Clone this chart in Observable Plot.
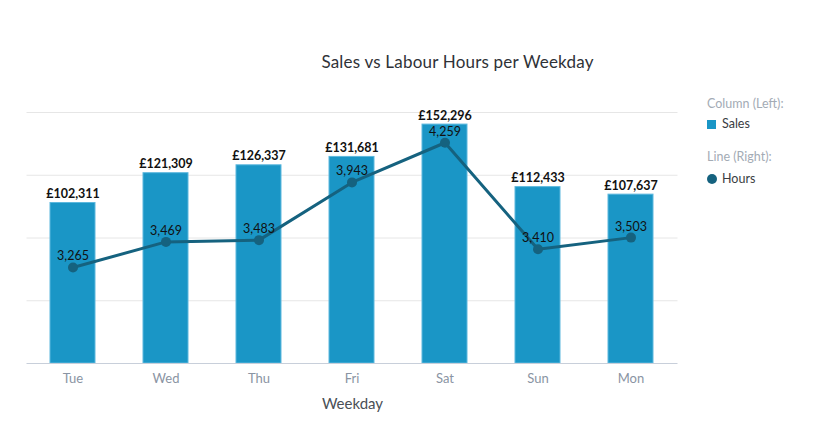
<!DOCTYPE html>
<html><head><meta charset="utf-8">
<script src="https://cdn.jsdelivr.net/npm/d3@7"></script>
<script src="https://cdn.jsdelivr.net/npm/@observablehq/plot@0.6"></script>
<style>
body{margin:0;background:#fff;font-family:Lato,"Open Sans",sans-serif}
#wrap{position:relative;width:826px;height:432px}
#chart{position:absolute;left:0;top:0}
#title{position:absolute;left:0;width:915px;top:51px;text-align:center;font-size:17px;color:#2f3237;white-space:nowrap;letter-spacing:0.2px}
#legend{position:absolute;left:707px;top:96px;font-size:12.5px}
.lh{color:#a3abb5;height:16px;line-height:16px}
.li{color:#3a3d42;height:18px;line-height:18px;margin-top:3px;display:flex;align-items:center}
.sw{display:inline-block;width:9px;height:9px;margin-right:6px}
.ci{display:inline-block;width:10px;height:10px;border-radius:50%;margin-right:5px}
</style></head><body>
<div id="wrap">
<div id="chart"></div>
<div id="title">Sales vs Labour Hours per Weekday</div>
<div id="legend">
  <div class="lh">Column (Left):</div>
  <div class="li"><span class="sw" style="background:#1a96c6"></span>Sales</div>
  <div class="lh" style="margin-top:16px">Line (Right):</div>
  <div class="li" style="margin-top:5px"><span class="ci" style="background:#15627f"></span>Hours</div>
</div>
</div>
<script>
const weekdays = ["Tue","Wed","Thu","Fri","Sat","Sun","Mon"];
const sales = [102311,121309,126337,131681,152296,112433,107637];
const hours = [3265,3469,3483,3943,4259,3410,3503];
const salesTicks = [0,40000,80000,120000,160000];
const salesDomain = [0,160000];
const hoursDomain = [2500,4500];

const data = weekdays.map((d,i)=>({day:d, sales:sales[i], hours:hours[i]}));
const h2y = d3.scaleLinear().domain(hoursDomain).range(salesDomain);
const fmt = d3.format(",");

const plot = Plot.plot({
  width:826, height:432,
  marginLeft:26.5, marginRight:148.5, marginTop:112, marginBottom:69,
  style:{fontFamily:"Lato, sans-serif", background:"transparent"},
  x:{domain:weekdays, paddingInner:0.516, paddingOuter:0.258, label:null},
  y:{domain:salesDomain, axis:null},
  marks:[
    Plot.gridY(salesTicks.slice(1), {stroke:"#e6e6e6", strokeOpacity:1}),
    Plot.barY(data,{x:"day", y:"sales", fill:"#1a96c6", stroke:"#5cb8de", strokeWidth:1}),
    Plot.ruleY([0],{stroke:"#c8cfda"}),
    Plot.axisX({tickSize:0, tickPadding:10, fontSize:13, color:"#8a94a3", label:null}),
    Plot.text(["Weekday"], {frameAnchor:"bottom", dy:45, fontSize:15, fill:"#4a4f56"}),
    Plot.text(data,{x:"day", y:"sales", text:d=>"£"+fmt(d.sales), dy:-9, fontWeight:"bold", fontSize:12.5, fill:"#111"}),
    Plot.line(data,{x:"day", y:d=>h2y(d.hours), stroke:"#15627f", strokeWidth:3}),
    Plot.dot(data,{x:"day", y:d=>h2y(d.hours), r:5, fill:"#15627f"}),
    Plot.text(data,{x:"day", y:d=>h2y(d.hours), text:d=>fmt(d.hours), dy:-11, fontSize:12.5, fill:"#111"})
  ]
});
document.getElementById("chart").appendChild(plot);
</script>
</body></html>
